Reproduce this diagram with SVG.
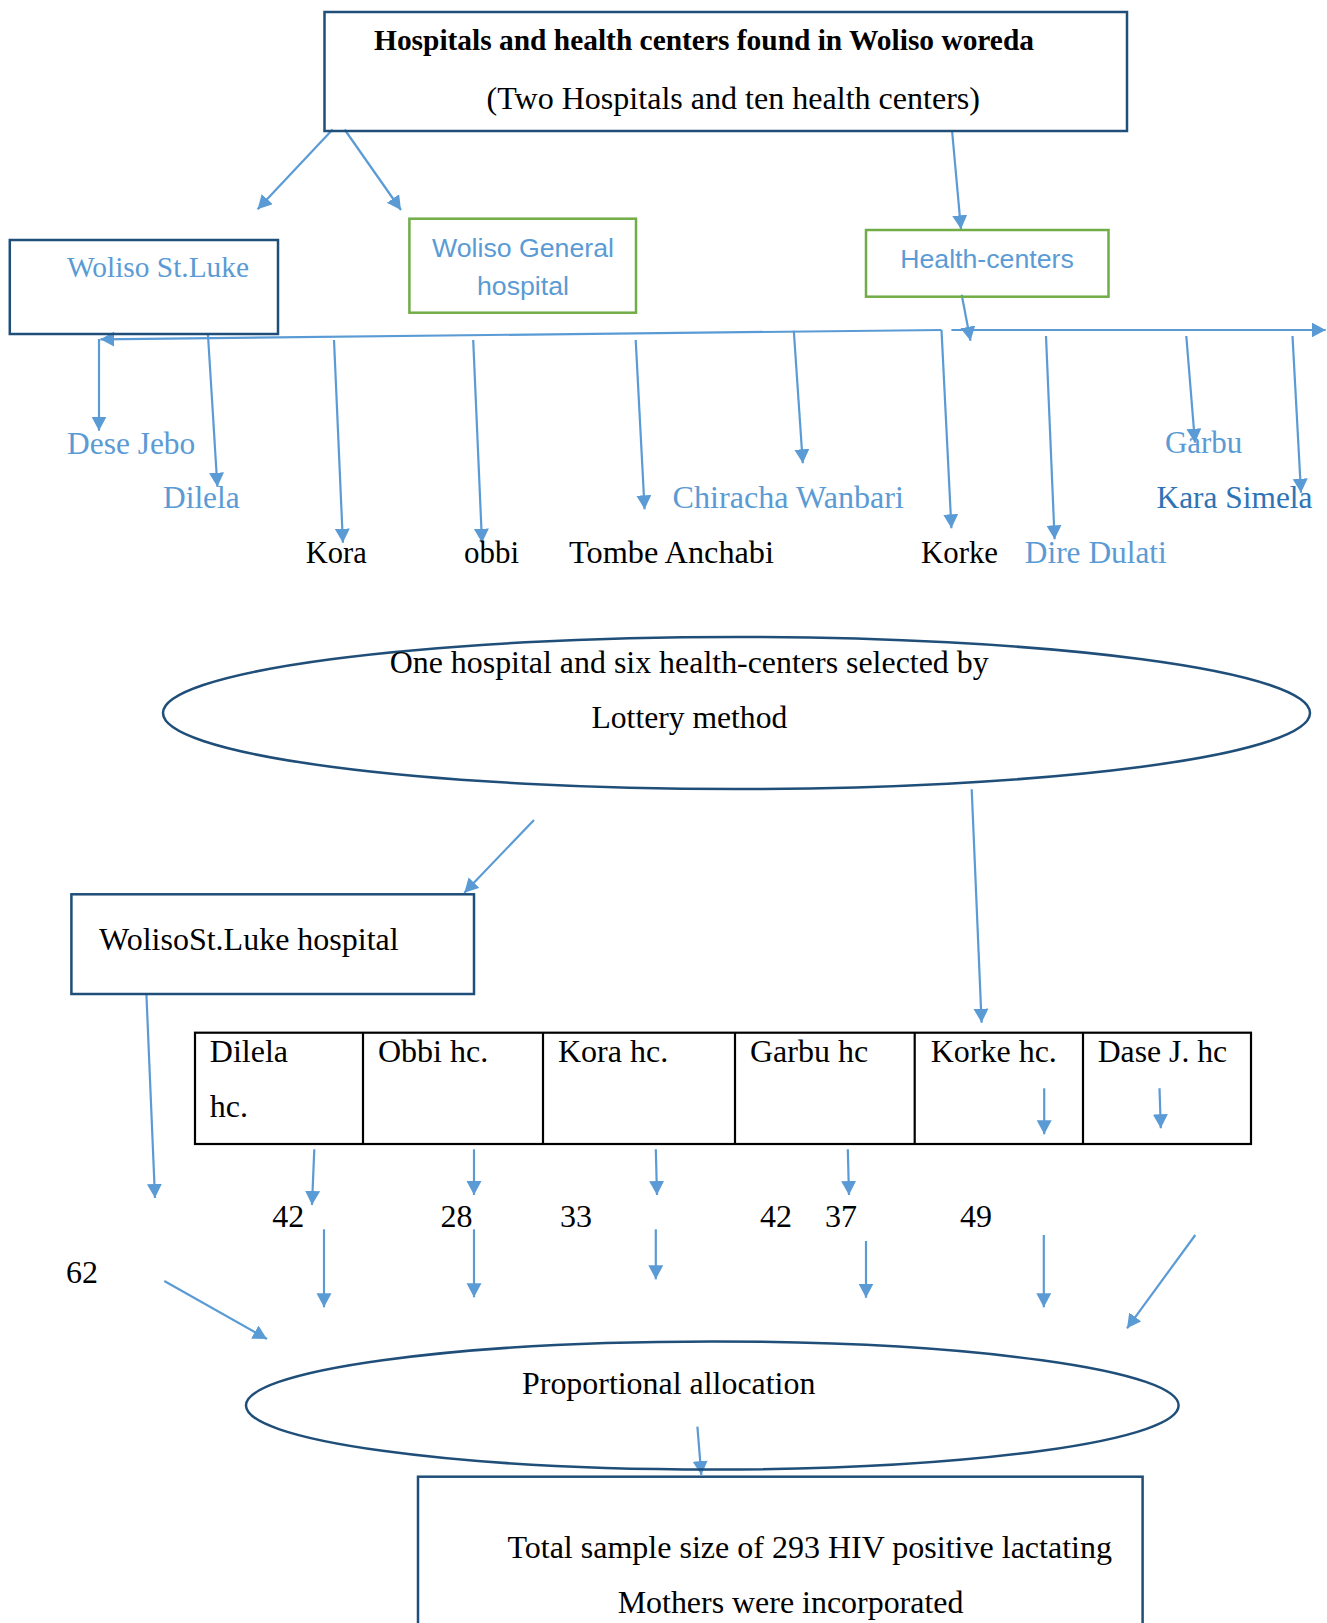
<svg xmlns="http://www.w3.org/2000/svg" width="1327" height="1623" viewBox="0 0 1327 1623">
<defs>
<style>
.box{fill:none;stroke:#1F4E79;stroke-width:2.5}
.gbox{fill:none;stroke:#70AD47;stroke-width:2.5}
.tbl{fill:none;stroke:#000;stroke-width:2.2}
.ell{fill:none;stroke:#1F4E79;stroke-width:2.5}
.c{fill:none;stroke:#5B9BD5;stroke-width:2.2;marker-end:url(#arr)}
.t{font-family:"Liberation Serif","Times New Roman",serif;font-size:32px;fill:#000}
.tb{font-family:"Liberation Serif","Times New Roman",serif;font-size:29.8px;font-weight:bold;fill:#000}
.lb{fill:#5B9BD5}
.db{fill:#2E74B5}
.s{font-family:"Liberation Sans",Arial,sans-serif;font-size:26.7px;fill:#5B9BD5}
</style>
<marker id="arr" markerUnits="userSpaceOnUse" markerWidth="16" markerHeight="16" refX="14" refY="7.5" orient="auto">
<path d="M0,0 L14,7.5 L0,15 z" fill="#5B9BD5"/>
</marker>
</defs>
<rect width="1327" height="1623" fill="#fff"/>

<g id="connectors">
<line class="c" x1="332.6" y1="129.5" x2="257.6" y2="209.3"/>
<line class="c" x1="344.6" y1="129.5" x2="401" y2="210"/>
<line class="c" x1="952" y1="130" x2="961" y2="229.3"/>
<line class="c" x1="961.7" y1="294.7" x2="970.5" y2="340.7"/>
<line class="c" x1="941.5" y1="330" x2="100.4" y2="339.3"/>
<line class="c" x1="951.4" y1="330" x2="1325.7" y2="330"/>
<line class="c" x1="941.5" y1="330" x2="951.4" y2="528.3"/>
<line class="c" x1="99" y1="339" x2="99" y2="430.7"/>
<line class="c" x1="208" y1="335" x2="217.4" y2="486.7"/>
<line class="c" x1="334" y1="340" x2="342.9" y2="542.7"/>
<line class="c" x1="473.2" y1="340" x2="482" y2="542.7"/>
<line class="c" x1="635.7" y1="340" x2="644.6" y2="509.3"/>
<line class="c" x1="793.8" y1="330.7" x2="802.8" y2="463.3"/>
<line class="c" x1="1046" y1="336" x2="1054.6" y2="539.3"/>
<line class="c" x1="1186.3" y1="336" x2="1195" y2="442.7"/>
<line class="c" x1="1292.5" y1="336" x2="1301" y2="492.7"/>
<line class="c" x1="534" y1="820" x2="464.3" y2="892.7"/>
<line class="c" x1="971.7" y1="789.3" x2="981.6" y2="1022.7"/>
<line class="c" x1="146.4" y1="994" x2="155" y2="1198"/>
<line class="c" x1="1044.2" y1="1088.3" x2="1044.2" y2="1134.3"/>
<line class="c" x1="1159.5" y1="1088.3" x2="1160.8" y2="1128.3"/>
<line class="c" x1="314.3" y1="1149.3" x2="312" y2="1205"/>
<line class="c" x1="474" y1="1149.3" x2="474" y2="1195"/>
<line class="c" x1="655.8" y1="1149.3" x2="657" y2="1195"/>
<line class="c" x1="847.8" y1="1149.3" x2="849" y2="1195"/>
<line class="c" x1="324" y1="1229.3" x2="324" y2="1307.3"/>
<line class="c" x1="474" y1="1229.3" x2="474" y2="1297.3"/>
<line class="c" x1="655.8" y1="1229.3" x2="655.8" y2="1279.3"/>
<line class="c" x1="866" y1="1241" x2="866" y2="1297.7"/>
<line class="c" x1="1043.8" y1="1235" x2="1043.8" y2="1307.3"/>
<line class="c" x1="1195.3" y1="1235" x2="1127" y2="1328.3"/>
<line class="c" x1="164.3" y1="1281" x2="267" y2="1339"/>
<line class="c" x1="697.4" y1="1426.7" x2="701.3" y2="1475"/>
</g>

<g id="top">
<rect class="box" x="324.5" y="12" width="802.5" height="119"/>
<text class="tb" x="374" y="50" textLength="660" lengthAdjust="spacingAndGlyphs">Hospitals and health centers found in Woliso woreda</text>
<text class="t" x="486.5" y="109" textLength="493.5" lengthAdjust="spacingAndGlyphs">(Two Hospitals and ten health centers)</text>
</g>

<g id="woliso-stluke">
<rect class="box" x="9.8" y="240" width="268.2" height="94"/>
<text class="t lb" x="67" y="277" style="font-size:29.5px" textLength="182" lengthAdjust="spacingAndGlyphs">Woliso St.Luke</text>
</g>

<g id="woliso-general">
<rect class="gbox" x="409.4" y="218.7" width="226.6" height="94"/>
<text class="s" x="523" y="257" text-anchor="middle">Woliso General</text>
<text class="s" x="523" y="295" text-anchor="middle">hospital</text>
</g>

<g id="health-centers">
<rect class="gbox" x="866" y="230" width="242.5" height="66.7"/>
<text class="s" x="987" y="268" text-anchor="middle">Health-centers</text>
</g>

<g id="hc-labels">
<text class="t lb" x="67" y="453.5" textLength="128.3" lengthAdjust="spacingAndGlyphs">Dese Jebo</text>
<text class="t lb" x="163" y="508.3" textLength="76.7" lengthAdjust="spacingAndGlyphs">Dilela</text>
<text class="t" x="305.8" y="563.3" textLength="61" lengthAdjust="spacingAndGlyphs">Kora</text>
<text class="t" x="464" y="563.3" textLength="55" lengthAdjust="spacingAndGlyphs">obbi</text>
<text class="t" x="569" y="563.3" textLength="205" lengthAdjust="spacingAndGlyphs">Tombe Anchabi</text>
<text class="t lb" x="672.5" y="508.3" textLength="231.5" lengthAdjust="spacingAndGlyphs">Chiracha Wanbari</text>
<text class="t" x="921" y="563.3" textLength="77" lengthAdjust="spacingAndGlyphs">Korke</text>
<text class="t lb" x="1024.8" y="563.3" textLength="142" lengthAdjust="spacingAndGlyphs">Dire Dulati</text>
<text class="t lb" x="1165" y="453.3" textLength="77.3" lengthAdjust="spacingAndGlyphs">Garbu</text>
<text class="t db" x="1156.5" y="508.3" textLength="156" lengthAdjust="spacingAndGlyphs">Kara Simela</text>
</g>

<g id="lottery">
<ellipse class="ell" cx="736.5" cy="713" rx="573.5" ry="76"/>
<text class="t" x="389.7" y="673.3" textLength="599" lengthAdjust="spacingAndGlyphs">One hospital and six health-centers selected by</text>
<text class="t" x="591.5" y="728.3" textLength="195.8" lengthAdjust="spacingAndGlyphs">Lottery method</text>
</g>

<g id="stluke-hospital">
<rect class="box" x="71.4" y="894.3" width="402.6" height="99.7"/>
<text class="t" x="99" y="950" textLength="299.7" lengthAdjust="spacingAndGlyphs">WolisoSt.Luke hospital</text>
</g>

<g id="hc-table">
<rect class="tbl" x="195" y="1032.7" width="1056" height="111.3"/>
<line class="tbl" x1="363" y1="1032.7" x2="363" y2="1144"/>
<line class="tbl" x1="543" y1="1032.7" x2="543" y2="1144"/>
<line class="tbl" x1="735" y1="1032.7" x2="735" y2="1144"/>
<line class="tbl" x1="914.7" y1="1032.7" x2="914.7" y2="1144"/>
<line class="tbl" x1="1083" y1="1032.7" x2="1083" y2="1144"/>
<text class="t" x="209.8" y="1061.7">Dilela</text>
<text class="t" x="209.8" y="1116.7">hc.</text>
<text class="t" x="378" y="1061.7">Obbi hc.</text>
<text class="t" x="558" y="1061.7">Kora hc.</text>
<text class="t" x="750" y="1061.7">Garbu hc</text>
<text class="t" x="930.7" y="1061.7">Korke hc.</text>
<text class="t" x="1097.7" y="1061.7" textLength="129.5" lengthAdjust="spacingAndGlyphs">Dase J. hc</text>
</g>

<g id="numbers">
<text class="t" x="272.3" y="1227.3">42</text>
<text class="t" x="440.6" y="1227.3">28</text>
<text class="t" x="560" y="1227.3">33</text>
<text class="t" x="760" y="1227.3">42</text>
<text class="t" x="824.9" y="1227.3">37</text>
<text class="t" x="960" y="1227.3">49</text>
<text class="t" x="66" y="1282.7">62</text>
</g>

<g id="proportional">
<ellipse class="ell" cx="712.3" cy="1405.5" rx="466.3" ry="64"/>
<text class="t" x="522" y="1394" textLength="293.4" lengthAdjust="spacingAndGlyphs">Proportional allocation</text>
</g>

<g id="total">
<rect class="box" x="418" y="1476.7" width="724.6" height="170"/>
<text class="t" x="507.4" y="1558.3" textLength="604.6" lengthAdjust="spacingAndGlyphs">Total sample size of 293 HIV positive lactating</text>
<text class="t" x="617.7" y="1613.3" textLength="345.7" lengthAdjust="spacingAndGlyphs">Mothers were incorporated</text>
</g>
</svg>
